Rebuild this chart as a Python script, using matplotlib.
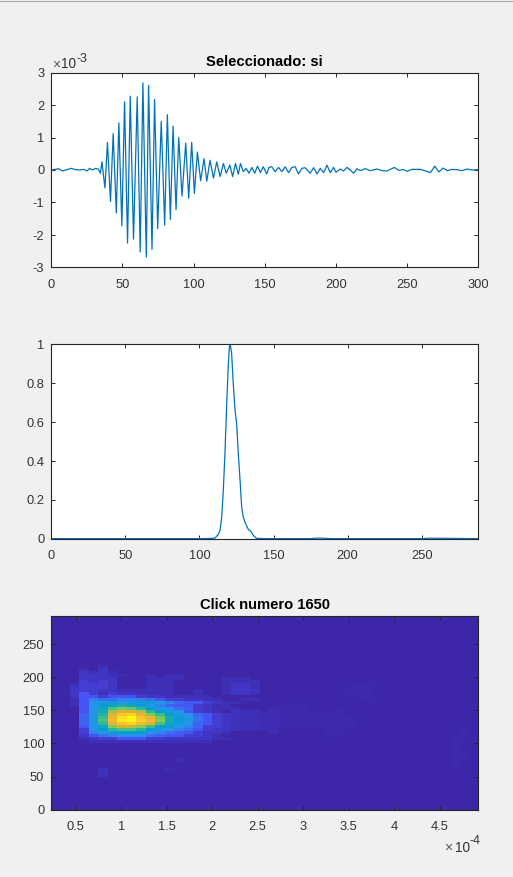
import matplotlib
matplotlib.use("Agg")
import matplotlib.pyplot as plt
import numpy as np
from matplotlib.colors import LinearSegmentedColormap
from matplotlib.lines import Line2D

plt.rcParams['font.family'] = ['Liberation Sans', 'DejaVu Sans']
plt.rcParams['axes.unicode_minus'] = False

# ---- top panel: waveform extrema (x in samples, y in 1e-3)
wave_x = [0, 3, 5, 8, 11, 14, 17, 20, 23, 25, 27, 29, 31, 33, 34.5, 35.6, 37.7, 39.5, 41.6, 43.5, 45.7, 47.5, 49.6,
          51.5, 53.6, 55.5, 57.8, 60.4, 62.5, 64.4, 66.8, 68.4, 70.8, 72.6, 74.8, 77.3, 79.7, 81.6, 83.7, 85.6,
          87.7, 89.6, 91.9, 94.5, 96.6, 98.7, 100.6, 102.7, 105, 107.4, 109.3, 111.6, 114, 116.3, 118.7, 121, 123,
          125.5, 127.5, 129.5, 131.5, 133, 135, 137, 139, 141, 143, 145, 147, 149, 151.5, 153,
          155, 157.4, 159.8, 162.1, 164.5, 166.8, 169.2, 171.5, 173.8, 176.2, 178.5, 182, 184.4, 186.8, 189.1,
          191.5, 193.8, 196.1, 198.5, 200.1, 203.2, 205.5, 207.9, 210.2, 212.6, 214.9, 217.3, 220.8, 224.3, 229,
          232.5, 236, 241.2, 244.3, 247.8, 250.1, 253.6, 259.5, 266.6, 269.6, 272.4, 275.5, 278.3, 281.8, 285.3,
          288.8, 292.4, 295.9, 300]
wave_y = [0, .02, .04, -.03, .01, .05, .01, 0, .02, -.03, .05, 0, .05, .03, -.1, .25, -.55, .85, -.97, 1.12, -1.32, 1.45, -1.72,
          2.1, -2.25, 2.27, -2.13, 2.25, -2.52, 2.68, -2.68, 2.6, -2.44, 2.17, -1.8, 1.5, -1.7, 1.7, -1.52, 1.35,
          -1.22, 1.0, -.8, .83, -.87, .85, -.72, .55, -.33, .35, -.35, .3, -.25, .25, -.2, .2, -.1,
          .15, -.2, .2, -.13, .2, -.05, .05, -.1, .08, -.1, .12, -.08, .1, -.12, .08,
          .1, -.05, .08, -.05, .1, -.08, .08, .1, -.12, .05, .07, -.1, .07, -.12, .05,
          -.08, .15, -.08, .08, -.07, .03, -.03, .08, 0, -.1, .04, -.02, .04, -.02, .03,
          -.02, -.03, .08, -.01, .01, -.04, .02, .02, -.08, .12, -.06, .06, -.02, .02, .01,
          -.02, .03, 0, .01]

# ---- middle panel
pulse_x = [0, 50, 100, 108.2, 110.5, 112.7, 113.9, 115, 116.1, 117.2, 118.4, 119.5, 120.2, 120.8, 121.7, 122.8, 124,
           125.1, 126.2, 127.4, 128.5, 129.6, 130.7, 133, 134.6, 136.4, 138.6, 145, 175, 180, 190, 250, 255, 288]
pulse_y = [.001, .001, .001, .002, .004, .022, .043, .112, .249, .438, .696, .900, .988, 1.0, .954, .799, .662,
           .593, .438, .301, .163, .112, .086, .048, .039, .017, .002, .001, .001, .004, .001, .001, .003, .001]

# ---- bottom panel: levels 0..35 as base-36 digits, one char per column; first string is row 47
heat_top_row = 47
heat_rows = [
    "000001",
    "000102",
    "0002121",
    "00022211001011",
    "00022220001111" + "0000111",
    "00032320001110" + "00001111",
    "00133320001110" + "00001221",
    "00233320001110" + "00001221",
    "0023322111111001" + "001222",
    "0024313221111001" + "001221",
    "00244344432211111",
    "0014766777643322110011",
    "00148ab9bbb975443211",
    "00148cefec9754432110",
    "00049ejlkhda86532111",
    "00049fnqqohca94321",
    "0005agrvwsmida954321",
    "0005aisxzvslfc964321",
    "0005ajtyzwtmfc964321",
    "00059hrvwtrjeb954321",
    "00049emqpmidb9753321",
    "00038chjjhca97643221",
    "000379bddc876543221",
    "000246788865443321",
    "00012334443322222110",
    "00001111111111111",
]
# isolated faint patches: (column, top row, bottom row, level)
faint_col = [23, 24, 25, 26, 27, 28, 29, 30, 31, 31, 32, 33, 42, 43, 43, 5, 13, 12, 18, 19, 20, 21, 22]
faint_top = [33, 34, 34, 35, 31, 31, 31, 33, 30, 40, 41, 41, 24, 27, 18, 13, 16, 13, 30, 32, 32, 32, 31]
faint_bot = [25, 27, 27, 27, 27, 27, 24, 25, 27, 37, 37, 36, 14, 23, 16, 11, 16, 13, 26, 26, 26, 26, 26]
faint_lev = [.6, .4, .4, .4, .4, .4, .4, .4, .4, .4, .4, .4, .3, .3, .3, 1, .6, .6, 1, 1, .8, .7, .6]

n_cols, n_rows = 45, 64
levels = np.zeros((n_rows, n_cols))
for i, s in enumerate(heat_rows):
    for c, ch in enumerate(s):
        levels[heat_top_row - i, c] = int(ch, 36)
levels[levels <= 3] *= 0.7
for c, t, b, v in zip(faint_col, faint_top, faint_bot, faint_lev):
    levels[b:t + 1, c] = np.maximum(levels[b:t + 1, c], v)

parula = LinearSegmentedColormap.from_list("parula", [
    (0.000, (.2422, .1504, .6603)), (0.109, (.2810, .3228, .9579)), (0.238, (.1540, .5902, .9218)),
    (0.365, (.0265, .6137, .8135)), (0.492, (.1707, .7239, .6)), (0.619, (.5044, .7993, .348)),
    (0.746, (.8642, .7, .2)), (0.873, (.9856, .7372, .2)), (1.000, (.9763, .9831, .0538))])

W, H = 513, 877
BG = '#f0f0f0'
INK = '#262626'
LABEL = '#333333'
fig = plt.figure(figsize=(W / 100, H / 100), dpi=100, facecolor=BG)
fig.add_artist(Line2D([0, 1], [0.9994, 0.9994], color='#a8a8a8', lw=0.8))


def make_ax(top, bottom, left=51.3, right=478):
    ax = fig.add_axes([left / W, 1 - bottom / H, (right - left) / W, (bottom - top) / H])
    ax.set_facecolor('white')
    for s in ax.spines.values():
        s.set_color(INK)
        s.set_linewidth(0.8)
    ax.tick_params(direction='in', length=3.2, width=0.7, color=INK, labelcolor=LABEL, labelsize=9.3,
                   top=True, right=True)
    ax.tick_params(axis='x', pad=8)
    ax.tick_params(axis='y', pad=5)
    return ax


def exponent_label(x10, y10, xexp, yexp, xtimes, text):
    # text positions in pixels from the top-left corner
    fig.text(xtimes / W, 1 - y10 / H, "\u00d7", fontsize=10, color='#555555', va='center', ha='left')
    fig.text(x10 / W, 1 - y10 / H, "10", fontsize=9.8, color=LABEL, va='center', ha='left')
    fig.text(xexp / W, 1 - yexp / H, text, fontsize=9, color=LABEL, va='center', ha='left')


LINE = '#0072bd'
ax1 = make_ax(72.5, 267.5)
ax1.plot(wave_x, wave_y, color=LINE, lw=0.9)
ax1.set_xlim(0, 300)
ax1.set_ylim(-3, 3)
ax1.set_xticks(range(0, 301, 50))
ax1.set_yticks(range(-3, 4))
ax1.set_title("Seleccionado: si", fontsize=10.6, fontweight='bold', color='black', pad=5)
exponent_label(61.5, 64.5, 76.5, 58.5, 52, "-3")

ax2 = make_ax(344.3, 538.8)
ax2.plot(pulse_x, pulse_y, color=LINE, lw=0.9)
ax2.set_xlim(0, 288)
ax2.set_ylim(0, 1)
ax2.set_xticks(range(0, 251, 50))
ax2.set_yticks([0, .2, .4, .6, .8, 1])
ax2.set_yticklabels(['0', '0.2', '0.4', '0.6', '0.8', '1'])

ax3 = make_ax(616, 809.7)
x0, x1, y1 = 0.233, 4.92, 292.5
ax3.imshow(levels, origin='lower', cmap=parula, vmin=0, vmax=35, aspect='auto',
           extent=[x0, x1, 0, y1], interpolation='nearest')
ax3.set_xlim(x0, x1)
ax3.set_ylim(0, y1)
ax3.set_xticks([.5, 1, 1.5, 2, 2.5, 3, 3.5, 4, 4.5])
ax3.set_xticklabels(['0.5', '1', '1.5', '2', '2.5', '3', '3.5', '4', '4.5'])
ax3.set_yticks(range(0, 251, 50))
ax3.set_title("Click numero 1650", fontsize=10.6, fontweight='bold', color='black', pad=5)
exponent_label(454.5, 847.5, 469, 841.5, 444.5, "-4")

fig.savefig("out.png", dpi=100, facecolor=BG)
